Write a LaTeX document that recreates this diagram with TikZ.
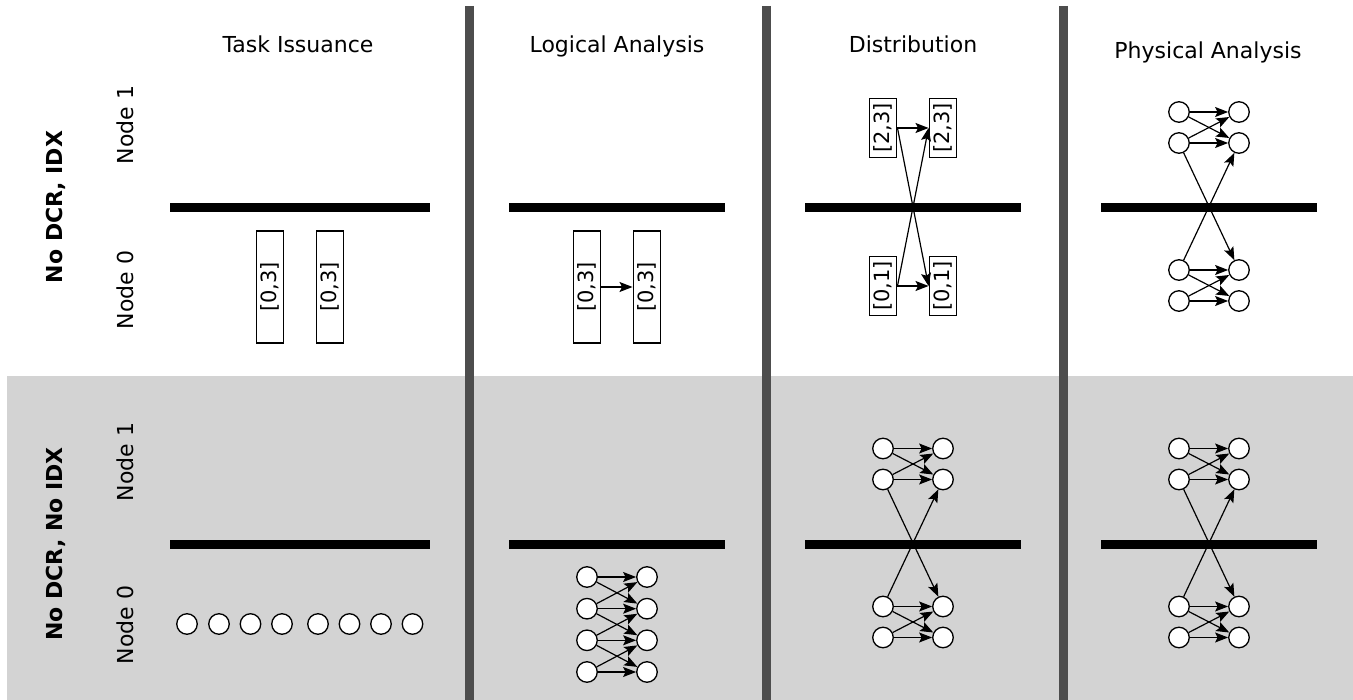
\documentclass[tikz,border=0pt]{standalone}
\usepackage{fontspec}
\setmainfont{DejaVu Sans}
\usetikzlibrary{arrows.meta}
\definecolor{bandgray}{HTML}{D3D3D3}
\definecolor{sepgray}{HTML}{4D4D4D}
\tikzset{
  sepline/.style={line width=9pt, draw=sepgray},
  nodebar/.style={line width=9pt, draw=black},
  title/.style={anchor=base, font=\fontsize{22}{26}\selectfont},
  rowlab/.style={rotate=90, font=\fontsize{22}{26}\selectfont\bfseries},
  nodelab/.style={rotate=90, font=\fontsize{22}{26}\selectfont},
  tbox/.style={draw, line width=1.2pt, rotate=90, inner sep=4.5pt, fill=white,
               font=\fontsize{21}{25}\selectfont},
  circ/.style={circle, draw, line width=1.3pt, fill=white, minimum size=20.5pt, inner sep=0pt},
  arr/.style={-{Stealth[length=13pt,width=10pt,inset=2.5pt]}, line width=1.2pt},
}
% group of 2+2 circles above and below a bar, with cross links
\newcommand\quadgroup[4]{% prefix, xleft, xright, ybar
  \node[circ] (#1ua) at (#2,#4-95.5) {};
  \node[circ] (#1ub) at (#2,#4-64.5) {};
  \node[circ] (#1uc) at (#3,#4-95.5) {};
  \node[circ] (#1ud) at (#3,#4-64.5) {};
  \node[circ] (#1la) at (#2,#4+62.5) {};
  \node[circ] (#1lb) at (#2,#4+93.5) {};
  \node[circ] (#1lc) at (#3,#4+62.5) {};
  \node[circ] (#1ld) at (#3,#4+93.5) {};
  \draw[arr] (#1ua) -- (#1uc);
  \draw[arr] (#1ua) -- (#1ud);
  \draw[arr] (#1ub) -- (#1uc);
  \draw[arr] (#1ub) -- (#1ud);
  \draw[arr] (#1la) -- (#1lc);
  \draw[arr] (#1la) -- (#1ld);
  \draw[arr] (#1lb) -- (#1lc);
  \draw[arr] (#1lb) -- (#1ld);
  \draw[arr] (#1ub) -- (#1lc);
  \draw[arr] (#1la) -- (#1ud);
}
\begin{document}
\begin{tikzpicture}[x=1pt,y=-1pt]
\useasboundingbox (0,0) rectangle (1353,700);
% background band
\fill[bandgray] (7,376) rectangle (1353,700);
% column separators
\draw[sepline] (469.5,6) -- (469.5,700);
\draw[sepline] (766,6) -- (766,700);
\draw[sepline] (1063,6) -- (1063,700);
% node divider bars
\foreach \y in {207.5,544}{
  \draw[nodebar] (170,\y) -- (430,\y);
  \draw[nodebar] (509,\y) -- (725,\y);
  \draw[nodebar] (805,\y) -- (1021,\y);
  \draw[nodebar] (1101,\y) -- (1317,\y);
}
% titles
\node[title] (t1) at (298,53) {Task Issuance};
\node[title] (t2) at (617,53) {Logical Analysis};
\node[title] (t3) at (913,53) {Distribution};
\node[title] (t4) at (1208,59) {Physical Analysis};
% row labels
\node[rowlab] (r1) at (56,207) {No DCR, IDX};
\node[rowlab] (r2) at (56,544) {No DCR, No IDX};
\node[nodelab] (n11) at (125,125) {Node 1};
\node[nodelab] (n10) at (125,290) {Node 0};
\node[nodelab] (n21) at (125,462) {Node 1};
\node[nodelab] (n20) at (125,625) {Node 0};
% ---- row 1 ----
% task issuance
\node[tbox, minimum width=112pt, minimum height=27pt] (ti1) at (270,287) {[0,3]};
\node[tbox, minimum width=112pt, minimum height=27pt] (ti2) at (330,287) {[0,3]};
% logical analysis
\node[tbox, minimum width=112pt, minimum height=27pt] (la1) at (587,287) {[0,3]};
\node[tbox, minimum width=112pt, minimum height=27pt] (la2) at (647,287) {[0,3]};
\draw[arr] (la1) -- (la2);
% distribution
\node[tbox] (d1a) at (883,128) {[2,3]};
\node[tbox] (d1b) at (943,128) {[2,3]};
\node[tbox] (d0a) at (883,286) {[0,1]};
\node[tbox] (d0b) at (943,286) {[0,1]};
\draw[arr] (d1a) -- (d1b);
\draw[arr] (d0a) -- (d0b);
\draw[arr] (d1a.south) -- (d0b.north);
\draw[arr] (d0a.south) -- (d1b.north);
% physical analysis
\quadgroup{pa}{1179}{1239}{207.5}
% ---- row 2 ----
% task issuance circles
\foreach \i/\x in {1/187,2/219,3/250.5,4/282,5/318,6/349.5,7/381,8/412.5}{
  \node[circ] (tc\i) at (\x,624) {};
}
% logical analysis 4x4
\foreach \i/\y in {1/577,2/608.7,3/640.3,4/672}{
  \node[circ] (lx\i) at (587,\y) {};
  \node[circ] (ly\i) at (647,\y) {};
}
\foreach \i/\j in {1/1,1/2,2/1,2/2,2/3,3/2,3/3,3/4,4/3,4/4}{
  \draw[arr] (lx\i) -- (ly\j);
}
% distribution
\quadgroup{db}{883}{943}{544}
% physical analysis
\quadgroup{pb}{1179}{1239}{544}
\end{tikzpicture}
\end{document}
